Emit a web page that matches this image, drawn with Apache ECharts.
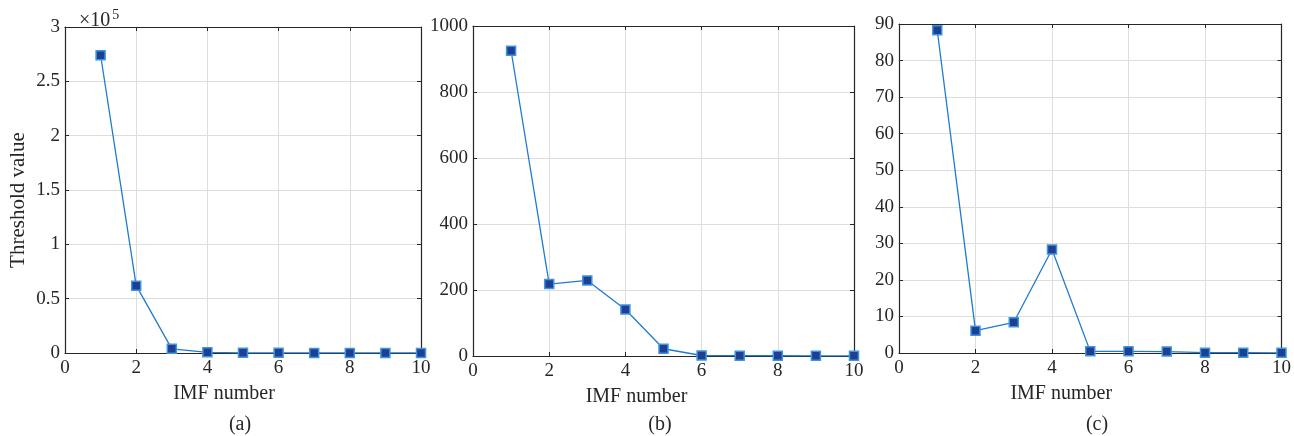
<!DOCTYPE html>
<html>
<head>
<meta charset="utf-8">
<script src="https://cdn.jsdelivr.net/npm/echarts@6/dist/echarts.min.js"></script>
<style>
html,body{margin:0;padding:0;background:#fff;}
#c{width:1294px;height:436px;}
</style>
</head>
<body>
<div id="c"></div>
<script>
// ---- data ----
const imfNumbers = [1, 2, 3, 4, 5, 6, 7, 8, 9, 10];
const thresholdA = [274000, 62000, 3800, 600, 200, 150, 100, 80, 60, 50];
const thresholdB = [925, 218, 229, 141, 22, 1.5, 1.0, 0.8, 0.6, 0.5];
const thresholdC = [88.3, 6.1, 8.4, 28.3, 0.45, 0.45, 0.4, 0.1, 0.08, 0.06];
const xTicks = [0, 2, 4, 6, 8, 10];
const captions = ['(a)', '(b)', '(c)'];
const xName = 'IMF number';
const yName = 'Threshold value';

const FONT = 'Liberation Serif';
const TXT = '#262626';
const LINE = '#1f7ad0';

const panels = [
  {data: thresholdA, ymax: 300000, yint: 50000, fmt: v => String(+(v / 1e5).toFixed(1)),
   grid: {left: 65, top: 27, width: 356, height: 326}, cap: 235, xShift: 38, yName: yName},
  {data: thresholdB, ymax: 1000, yint: 200, fmt: v => String(v),
   grid: {left: 473, top: 26, width: 381, height: 330}, cap: 655, xShift: 54, yName: ''},
  {data: thresholdC, ymax: 90, yint: 10, fmt: v => String(v),
   grid: {left: 899, top: 24, width: 387, height: 329}, cap: 1092, xShift: 58, yName: ''}
];

const grids = [], xAxes = [], yAxes = [], series = [], titles = [];
const axisLine = {show: true, onZero: false, lineStyle: {color: TXT, width: 1.2}};
const tick = {show: true, inside: true, length: 4, lineStyle: {color: TXT}};
const split = {show: true, lineStyle: {color: '#dedede', width: 1}};

panels.forEach((p, i) => {
  grids.push(Object.assign({containLabel: false}, p.grid));
  // bottom x
  xAxes.push({
    type: 'value', gridIndex: i, min: 0, max: xTicks[xTicks.length - 1], interval: xTicks[1] - xTicks[0],
    position: 'bottom', axisLine, axisTick: tick, splitLine: split,
    axisLabel: {color: TXT, fontFamily: FONT, fontSize: 19, margin: 6, showMaxLabel: true},
    name: xName, nameLocation: 'middle', nameGap: 31,
    nameTextStyle: {color: TXT, fontFamily: FONT, fontSize: 20, padding: [0, p.xShift, 0, 0]}
  });
  // top x (box)
  xAxes.push({
    type: 'value', gridIndex: i, min: 0, max: xTicks[xTicks.length - 1], interval: xTicks[1] - xTicks[0],
    position: 'top', axisLine, axisTick: tick, splitLine: {show: false}, axisLabel: {show: false}
  });
  // left y
  yAxes.push({
    type: 'value', gridIndex: i, min: 0, max: p.ymax, interval: p.yint,
    position: 'left', axisLine, axisTick: tick, splitLine: split,
    axisLabel: {color: TXT, fontFamily: FONT, fontSize: 19, margin: 5, formatter: p.fmt},
    name: p.yName, nameLocation: 'middle', nameGap: 36,
    nameTextStyle: {color: TXT, fontFamily: FONT, fontSize: 21, padding: [0, 20, 0, 0]}
  });
  // right y (box)
  yAxes.push({
    type: 'value', gridIndex: i, min: 0, max: p.ymax, interval: p.yint,
    position: 'right', axisLine, axisTick: tick, splitLine: {show: false}, axisLabel: {show: false}
  });
  series.push({
    type: 'line', xAxisIndex: 2 * i, yAxisIndex: 2 * i,
    data: imfNumbers.map((x, k) => [x, p.data[k]]),
    lineStyle: {color: LINE, width: 1.3},
    symbol: 'rect', symbolSize: 9,
    itemStyle: {color: '#1f3f93', borderColor: '#3d95dd', borderWidth: 1.5},
    animation: false, z: 5
  });
  titles.push({
    text: captions[i], left: p.cap, top: 410, textAlign: 'center',
    textStyle: {color: TXT, fontFamily: FONT, fontSize: 20, fontWeight: 'normal'}
  });
});

titles.push({
  text: '×10{sup|5}', left: 74, top: 3,
  textStyle: {color: TXT, fontFamily: FONT, fontSize: 20, fontWeight: 'normal',
    rich: {sup: {fontFamily: FONT, fontSize: 14, color: TXT, verticalAlign: 'top', padding: [0, 0, 12, 2]}}}
});

const chart = echarts.init(document.getElementById('c'), null, {renderer: 'canvas'});
chart.setOption({
  animation: false,
  backgroundColor: '#fff',
  title: titles,
  grid: grids,
  xAxis: xAxes,
  yAxis: yAxes,
  series: series
});
</script>
</body>
</html>
